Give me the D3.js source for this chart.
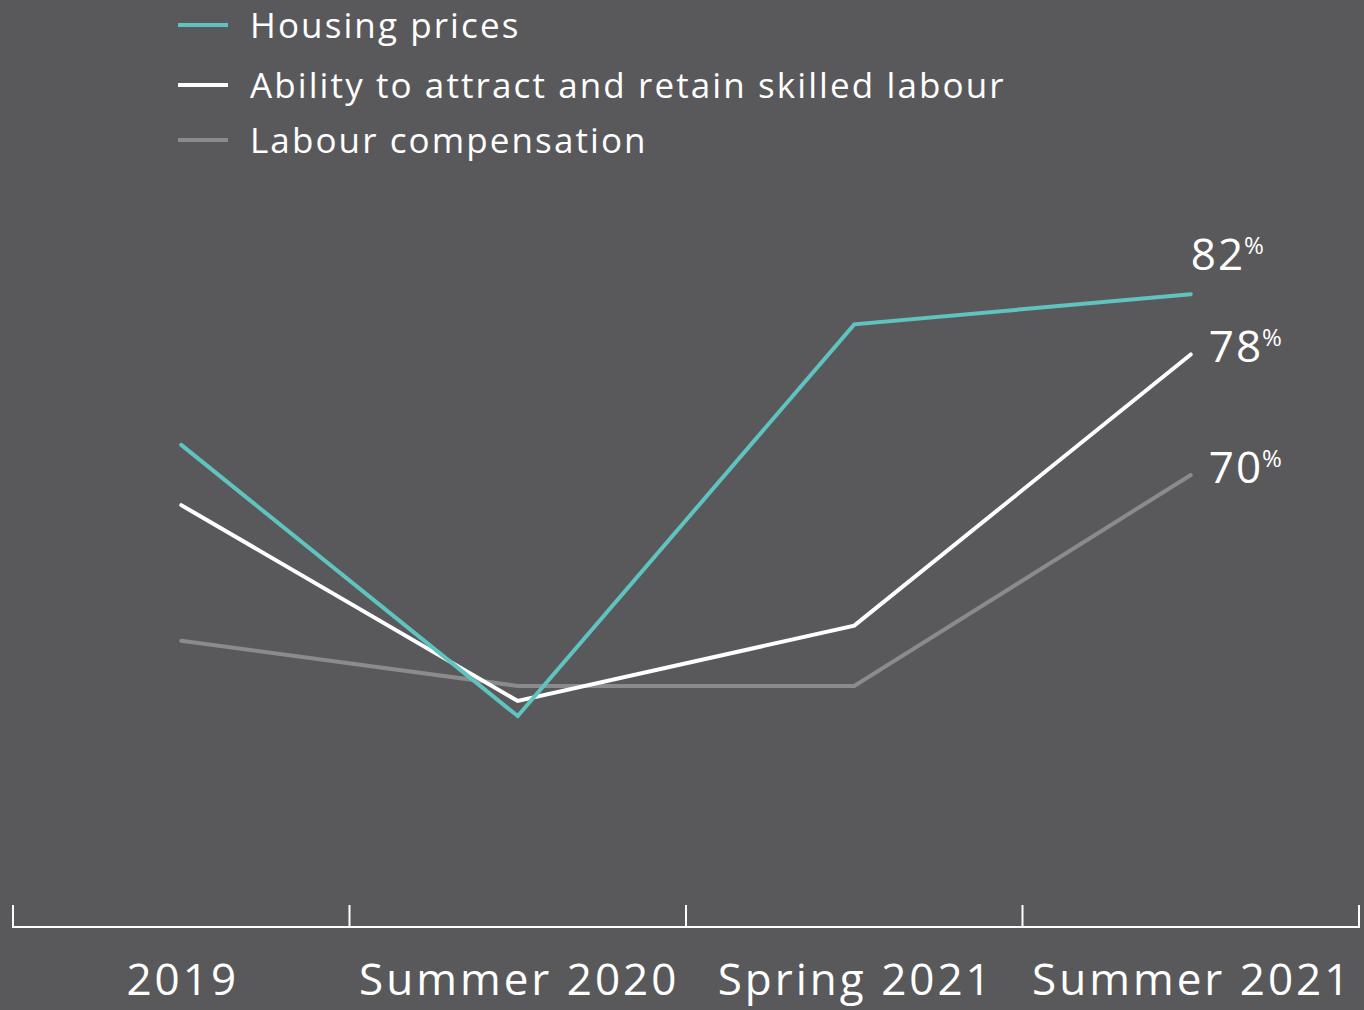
<!DOCTYPE html>
<html>
<head>
<meta charset="utf-8">
<script src="https://cdn.jsdelivr.net/npm/d3@7"></script>
<style>
  html, body { margin: 0; padding: 0; background: #59595b; }
  svg { display: block; }
  text { font-family: "Open Sans", "Noto Sans", sans-serif; fill: #ffffff; }
</style>
</head>
<body>
<svg id="chart" width="1364" height="1010"></svg>
<script>
// Survey periods along the x axis
const periods = ["2019", "Summer 2020", "Spring 2021", "Summer 2021"];

// Share of respondents citing each concern (%)
const housingPrices = [72, 54, 80, 82];
const skilledLabour = [68, 55, 60, 78];
const labourCompensation = [59, 56, 56, 70];

const seriesNames = ["Housing prices", "Ability to attract and retain skilled labour", "Labour compensation"];
const seriesColors = ["#5fc4bf", "#ffffff", "#8b8b8d"];

const series = [
  { name: seriesNames[2], values: labourCompensation, color: seriesColors[2] },
  { name: seriesNames[1], values: skilledLabour, color: seriesColors[1] },
  { name: seriesNames[0], values: housingPrices, color: seriesColors[0] }
];

const svg = d3.select("#chart");

const x = d3.scaleBand().domain(periods).range([13, 1359]).padding(0);
const y = d3.scaleLinear().domain([40, 100]).range([927, 23]);
const cx = d => x(d) + x.bandwidth() / 2;

// Axis: baseline plus separators at the band boundaries
const axisG = svg.append("g");
axisG.append("line")
  .attr("x1", x.range()[0]).attr("x2", x.range()[1])
  .attr("y1", y(40)).attr("y2", y(40))
  .attr("stroke", "#fff").attr("stroke-width", 2);
const bounds = periods.map(p => x(p)).concat([x.range()[1]]);
axisG.selectAll("line.sep").data(bounds).join("line")
  .attr("class", "sep")
  .attr("x1", d => d).attr("x2", d => d)
  .attr("y1", y(40) + 1).attr("y2", y(40) - 22)
  .attr("stroke", "#fff").attr("stroke-width", 2);
axisG.selectAll("text.cat").data(periods).join("text")
  .attr("class", "cat")
  .attr("x", d => cx(d) + 1.5).attr("y", 995)
  .attr("text-anchor", "middle")
  .style("font-size", "44px")
  .style("letter-spacing", "3px")
  .text(d => d);

// Lines
const line = d3.line().x((d, i) => cx(periods[i])).y(d => y(d));
svg.append("g").selectAll("path").data(series).join("path")
  .attr("d", d => line(d.values))
  .attr("fill", "none")
  .attr("stroke", d => d.color)
  .attr("stroke-width", 4)
  .attr("stroke-linecap", "round")
  .attr("stroke-linejoin", "miter");

// End-point value labels
const last = periods.length - 1;
const endLabels = svg.append("g").selectAll("text").data(series).join("text")
  .attr("x", d => d.name === seriesNames[0] ? cx(periods[last]) : cx(periods[last]) + 18)
  .attr("y", d => d.name === seriesNames[0] ? y(d.values[last]) - 24 : y(d.values[last]) + 8)
  .style("font-size", "44px")
  .style("letter-spacing", "2px");
endLabels.append("tspan").text(d => d.values[last]);
endLabels.append("tspan")
  .attr("dy", -16)
  .attr("dx", -1)
  .style("font-size", "24px")
  .style("letter-spacing", "0px")
  .text("%");

// Legend
const legendY = [25, 85, 140];
const legend = svg.append("g").selectAll("g").data(seriesNames).join("g")
  .attr("transform", (d, i) => `translate(178,${legendY[i]})`);
legend.append("line")
  .attr("x1", 0).attr("x2", 50).attr("y1", 0).attr("y2", 0)
  .attr("stroke", (d, i) => seriesColors[i]).attr("stroke-width", 4);
legend.append("text")
  .attr("x", 72).attr("y", 13)
  .style("font-size", "35px")
  .style("letter-spacing", "2.1px")
  .text(d => d);
</script>
</body>
</html>
